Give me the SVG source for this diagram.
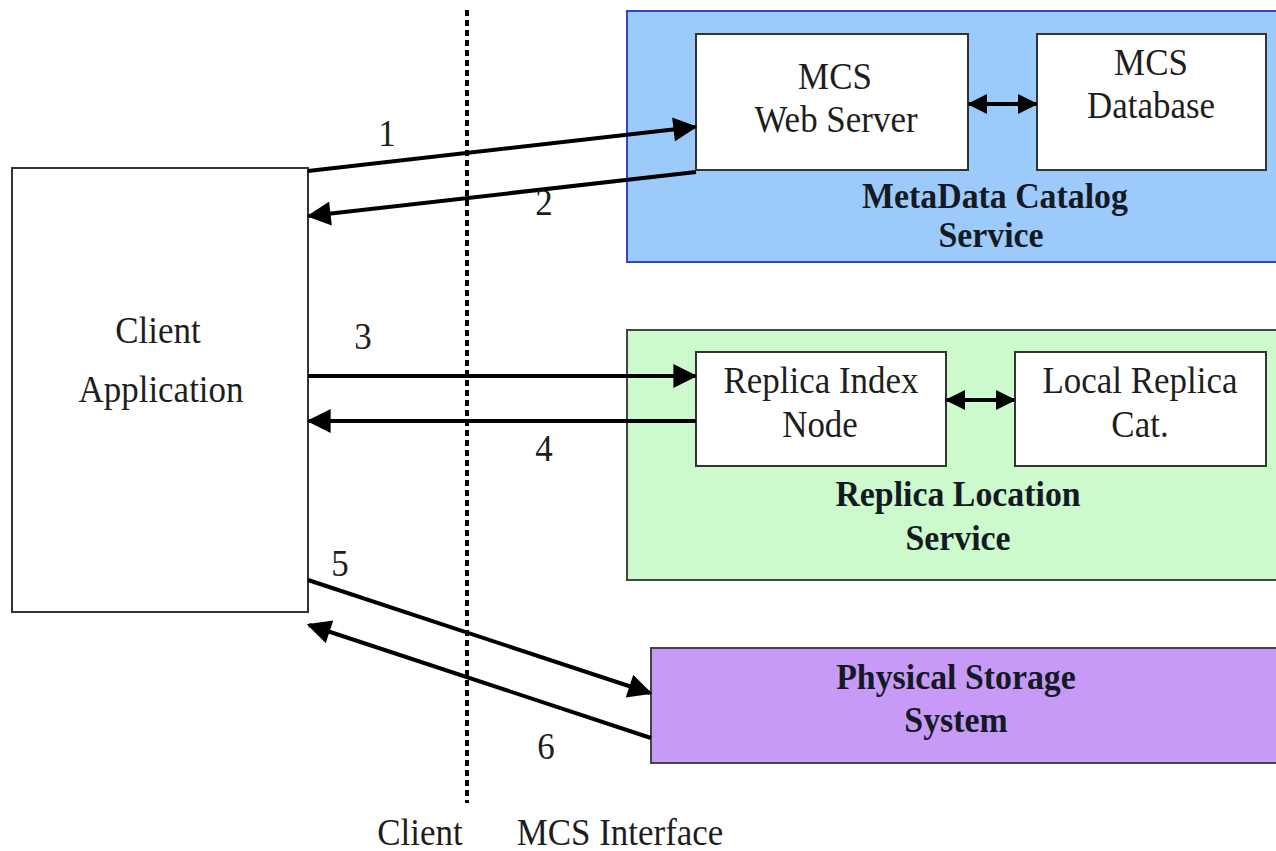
<svg xmlns="http://www.w3.org/2000/svg" width="1276" height="851" viewBox="0 0 1276 851">
  <style>
    .t { font-family: "Liberation Serif", "Times New Roman", serif; font-size: 38px; fill: #1e1e1e; text-anchor: middle; }
    .b { font-weight: bold; font-size: 36px; fill: #141a24; }
    .box { fill: #ffffff; stroke: #333; stroke-width: 2; }
    .conn { stroke: #000; stroke-width: 4; fill: none; }
  </style>
  <defs>
    <marker id="ah" viewBox="0 0 10 10" refX="9" refY="5" markerWidth="6.5" markerHeight="6" markerUnits="strokeWidth" orient="auto-start-reverse">
      <path d="M0,0 L10,5 L0,10 Z" fill="#000"/>
    </marker>
    <marker id="ahs" viewBox="0 0 10 10" refX="9" refY="5" markerWidth="5" markerHeight="6" markerUnits="strokeWidth" orient="auto-start-reverse">
      <path d="M0,0 L10,5 L0,10 Z" fill="#000"/>
    </marker>
  </defs>
  <rect width="1276" height="851" fill="#ffffff"/>

  <!-- client / interface boundary -->
  <line x1="467" y1="10" x2="467" y2="803" stroke="#000" stroke-width="4" stroke-dasharray="6 4"/>
  <text class="t" transform="translate(420 845) scale(.92 1)">Client</text>
  <text class="t" transform="translate(620 845) scale(.92 1)">MCS Interface</text>

  <g id="client-app">
    <rect class="box" x="12" y="168" width="296" height="444" stroke="#555" stroke-width="3"/>
    <text class="t" transform="translate(158 343) scale(.92 1)">Client</text>
    <text class="t" transform="translate(161 402) scale(.92 1)">Application</text>
  </g>

  <g id="mcs">
    <rect x="627" y="11" width="660" height="251" fill="#9ccbfb" stroke="#3344cc" stroke-width="2"/>
    <text class="t b" transform="translate(995 208) scale(.94 1)">MetaData Catalog</text>
    <text class="t b" transform="translate(991 247) scale(.94 1)">Service</text>
  </g>
  <g id="mcs-web-server">
    <rect class="box" x="696" y="34" width="272" height="136"/>
    <text class="t" transform="translate(835 89) scale(.92 1)">MCS</text>
    <text class="t" transform="translate(836 132) scale(.92 1)">Web Server</text>
  </g>
  <g id="mcs-database">
    <rect class="box" x="1037" y="34" width="229" height="136"/>
    <text class="t" transform="translate(1151 75) scale(.92 1)">MCS</text>
    <text class="t" transform="translate(1151 118) scale(.92 1)">Database</text>
  </g>

  <g id="rls">
    <rect x="627" y="330" width="660" height="250" fill="#ccfacc" stroke="#444" stroke-width="2"/>
    <text class="t b" transform="translate(958 506) scale(.94 1)">Replica Location</text>
    <text class="t b" transform="translate(958 550) scale(.94 1)">Service</text>
  </g>
  <g id="replica-index-node">
    <rect class="box" x="696" y="352" width="250" height="114"/>
    <text class="t" transform="translate(821 393) scale(.92 1)">Replica Index</text>
    <text class="t" transform="translate(820 437) scale(.92 1)">Node</text>
  </g>
  <g id="local-replica-cat">
    <rect class="box" x="1015" y="352" width="251" height="114"/>
    <text class="t" transform="translate(1140 393) scale(.92 1)">Local Replica</text>
    <text class="t" transform="translate(1140 437) scale(.92 1)">Cat.</text>
  </g>

  <g id="physical-storage">
    <rect x="651" y="648" width="630" height="115" fill="#c69af6" stroke="#444" stroke-width="2"/>
    <text class="t b" transform="translate(956 689) scale(.94 1)">Physical Storage</text>
    <text class="t b" transform="translate(956 732) scale(.94 1)">System</text>
  </g>

  <g id="connectors">
    <line class="conn" x1="308" y1="171" x2="695" y2="127" marker-end="url(#ah)"/>
    <line class="conn" x1="696" y1="172" x2="309" y2="216" marker-end="url(#ah)"/>
    <line class="conn" x1="308" y1="376" x2="695" y2="376" marker-end="url(#ah)"/>
    <line class="conn" x1="696" y1="421" x2="309" y2="421" marker-end="url(#ah)"/>
    <line class="conn" x1="308" y1="580" x2="650" y2="693" marker-end="url(#ah)"/>
    <line class="conn" x1="651" y1="738" x2="309" y2="625" marker-end="url(#ah)"/>
    <line class="conn" x1="969" y1="104" x2="1036" y2="104" marker-start="url(#ahs)" marker-end="url(#ahs)"/>
    <line class="conn" x1="947" y1="400" x2="1014" y2="400" marker-start="url(#ahs)" marker-end="url(#ahs)"/>
    <text class="t" transform="translate(387 146) scale(.92 1)">1</text>
    <text class="t" transform="translate(544 215) scale(.92 1)">2</text>
    <text class="t" transform="translate(363 349) scale(.92 1)">3</text>
    <text class="t" transform="translate(544 461) scale(.92 1)">4</text>
    <text class="t" transform="translate(340 576) scale(.92 1)">5</text>
    <text class="t" transform="translate(546 759) scale(.92 1)">6</text>
  </g>
</svg>
